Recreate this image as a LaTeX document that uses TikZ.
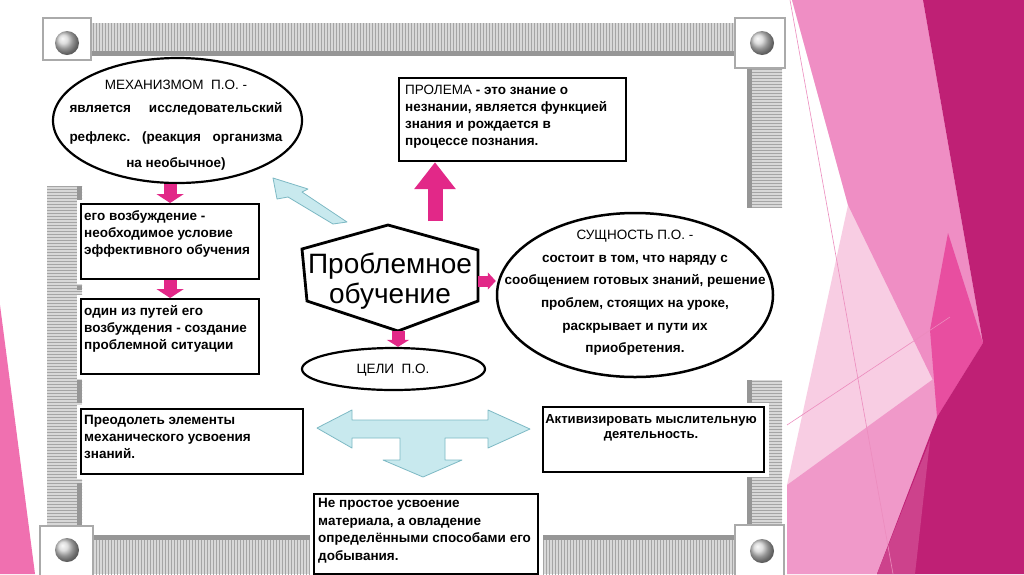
\documentclass[tikz,border=0pt]{standalone}
\usepackage{fontspec}
\setmainfont{Liberation Sans}
\usetikzlibrary{shapes.geometric,arrows.meta,patterns}
\definecolor{pinkA}{RGB}{226,40,136}
\definecolor{bgPale}{RGB}{248,205,227}
\definecolor{bgMid}{RGB}{239,142,196}
\definecolor{bgLow}{RGB}{240,153,201}
\definecolor{bgHot}{RGB}{232,78,160}
\definecolor{bgDark}{RGB}{191,32,117}
\definecolor{bgMauve}{RGB}{205,66,140}
\definecolor{bgLeft}{RGB}{240,112,176}
\definecolor{bgThin}{RGB}{236,140,190}
\definecolor{barFill}{RGB}{216,216,216}
\definecolor{barLine}{RGB}{165,165,165}
\definecolor{barEdge}{RGB}{150,150,150}
\definecolor{cornerLine}{RGB}{170,170,170}
\definecolor{cyanFill}{RGB}{200,233,238}
\definecolor{cyanLine}{RGB}{125,185,196}
\begin{document}
\begin{tikzpicture}[x=1pt,y=-1pt,
  hbar/.style={fill=barFill, postaction={pattern=vertical lines, pattern color=barLine}},
  vbar/.style={fill=barFill, postaction={pattern=horizontal lines, pattern color=barLine}},
  corner/.style={fill=white, draw=cornerLine, line width=2.5pt},
  knob/.style={ball color=gray!35},
  box/.style={draw=black, line width=2.2pt, fill=white, preaction={draw=white, line width=9pt}, inner sep=0pt, anchor=north west},
  ell/.style={ellipse, draw=black, line width=2.2pt, fill=white, inner sep=0pt},
  btxt/.style={anchor=north west, inner sep=0pt, align=left, font=\fontsize{13.5}{17}\selectfont\bfseries},
  parrow/.style={draw=pinkA, line width=13pt, -{Triangle[width=27pt,length=9pt]}},
  parrowh/.style={draw=pinkA, line width=11pt, -{Triangle[width=17pt,length=8pt]}},
  bigarrow/.style={draw=pinkA, line width=15pt, -{Triangle[width=40pt,length=27pt]}},
  cyanarrow/.style={fill=cyanFill, draw=cyanLine, line width=0.8pt, line join=round}
]
\useasboundingbox (0,0) rectangle (1024,574);
\fill[white] (0,0) rectangle (1024,574);
% background facets
\fill[bgLeft] (0,305) -- (35,574) -- (0,574) -- cycle;
\fill[bgPale] (792,0) -- (1024,0) -- (1024,574) -- (787,574) -- (787,485) -- (848,205) -- cycle;
\fill[bgMid] (792,0) -- (923,0) -- (983,343) -- (945,405) -- (848,205) -- cycle;
\fill[bgLow] (787,485) -- (983,343) -- (877,574) -- (787,574) -- cycle;
\fill[bgHot] (948,233) -- (983,343) -- (937,417) -- (930,330) -- cycle;
\fill[bgDark] (923,0) -- (1024,0) -- (1024,574) -- (877,574) -- (937,417) -- (983,343) -- cycle;
\fill[bgMauve] (877,574) -- (930,440) -- (915,574) -- cycle;
\draw[bgThin, line width=0.6pt] (790,0) -- (893,574);
\draw[bgThin, line width=0.6pt] (787,425) -- (950,317);
% frame
\path[hbar] (90,23) rectangle (736,55);
\fill[barEdge] (90,51) rectangle (736,56);
\path[hbar] (93,535) rectangle (737,574);
\fill[barEdge] (93,535) rectangle (737,540);
\path[vbar] (47,186) rectangle (82,527);
\fill[barEdge] (77,186) rectangle (82,200);
\fill[barEdge] (77,286) rectangle (82,290);
\fill[barEdge] (77,380) rectangle (82,403);
\fill[barEdge] (77,483) rectangle (82,527);
\path[vbar] (747,68) rectangle (782,208);
\fill[barEdge] (747,68) rectangle (752,208);
\path[vbar] (747,380) rectangle (782,525);
\fill[barEdge] (747,380) rectangle (752,525);
\draw[corner] (43,18) rectangle (91,60);
\draw[corner] (735,18) rectangle (785,68);
\draw[corner] (40,526) rectangle (93,580);
\draw[corner] (735,525) rectangle (784,580);
\shade[knob] (67,43) circle (12pt);
\shade[knob] (762,43) circle (12pt);
\shade[knob] (67,550) circle (12pt);
\shade[knob] (762,551) circle (12pt);
% top-left ellipse
\node[ell, minimum width=249pt, minimum height=125pt] (e1) at (177.5,120.5) {};
\node[anchor=north, inner sep=0pt, align=center, font=\fontsize{13.5}{23}\selectfont] (e1t) at (176,80)
  {МЕХАНИЗМОМ\ \ П.О. -\\
   \textbf{\makebox[213pt]{является\hfill исследовательский}}\\[6pt]
   \textbf{\makebox[213pt]{рефлекс.\hfill (реакция\hfill организма}}\\[3pt]
   \textbf{на необычное)}};
% left boxes
\node[box, minimum width=178pt, minimum height=75pt] (b1) at (80,203) {};
\node[btxt] (b1t) at (84,210) {его возбуждение -\\необходимое условие\\эффективного обучения};
\node[box, minimum width=178pt, minimum height=75pt] (b2) at (80,298) {};
\node[btxt] (b2t) at (84,305) {один из путей его\\возбуждения - создание\\проблемной ситуации};
\node[box, minimum width=222pt, minimum height=65pt] (b3) at (80,408) {};
\node[btxt] (b3t) at (84,415) {Преодолеть элементы\\механического усвоения\\знаний.};
\node[box, minimum width=224pt, minimum height=80pt] (b4) at (313,493) {};
\node[btxt, font=\fontsize{13.5}{17.5}\selectfont\bfseries] (b4t) at (318,498) {Не простое усвоение\\материала, а овладение\\определёнными способами его\\добывания.};
\node[box, minimum width=227pt, minimum height=83pt] (b5) at (398,77) {};
\node[btxt] (b5t) at (405,85) {{\mdseries ПРОЛЕМА} - это знание о\\незнании, является функцией\\знания и рождается в\\процессе познания.};
\node[box, minimum width=221pt, minimum height=65pt] (b6) at (542,406) {};
\node[btxt, anchor=north, align=center, font=\fontsize{13.1}{15}\selectfont\bfseries] (b6t) at (651,414) {Активизировать мыслительную\\деятельность.};
% hexagon
\coordinate (hT) at (388,225);
\coordinate (hRT) at (478,250);
\coordinate (hRB) at (478,301);
\coordinate (hB) at (398,331);
\coordinate (hLB) at (307,301);
\coordinate (hLT) at (302,249);
\draw[line width=2.8pt, fill=white] (hT) -- (hRT) -- (hRB) -- (hB) -- (hLB) -- (hLT) -- cycle;
\node[anchor=north, inner sep=0pt, align=center, font=\fontsize{28}{30}\selectfont] (hex) at (390,253) {Проблемное\\обучение};
% right ellipse
\node[ell, line width=2.5pt, minimum width=276pt, minimum height=164pt] (e2) at (635,295) {};
\node[anchor=north, inner sep=0pt, align=center, font=\fontsize{13.5}{22.6}\selectfont\bfseries] (e2t) at (635,230)
  {{\mdseries СУЩНОСТЬ П.О. -}\\состоит в том, что наряду с\\сообщением готовых знаний, решение\\проблем, стоящих на уроке,\\раскрывает и пути их\\приобретения.};
% goals ellipse
\node[ell, minimum width=183pt, minimum height=42pt] (e3) at (393.5,369) {};
\node[inner sep=0pt, font=\fontsize{13.5}{16}\selectfont] (e3t) at (393,370) {ЦЕЛИ\ \ П.О.};
% pink arrows
\draw[parrow] (e1.south -| b1.north) -- (b1.north);
\draw[parrow] (b1.south) -- (b2.north);
\draw[parrow, -{Triangle[width=22pt,length=7pt]}] (hB) -- (hB |- e3.north);
\coordinate (hR) at (478,281);
\draw[parrowh] (hR) -- (hR -| e2.west);
\coordinate (upS) at (435,221);
\draw[bigarrow] (upS) -- (upS |- b5.south);
% cyan arrows
\draw[cyanarrow] (273,178) -- (308,189) -- (302,192) -- (347,222) -- (333,224) -- (288,197) -- (277,199) -- cycle;
\draw[cyanarrow] (317,428) -- (352,410) -- (352,420) -- (488,420) -- (488,410) -- (530,429) -- (488,448) -- (488,438) -- (445,438) -- (445,460) -- (462,460) -- (423,477) -- (383,460) -- (400,460) -- (400,438) -- (352,438) -- (352,448) -- cycle;
\end{tikzpicture}
\end{document}
